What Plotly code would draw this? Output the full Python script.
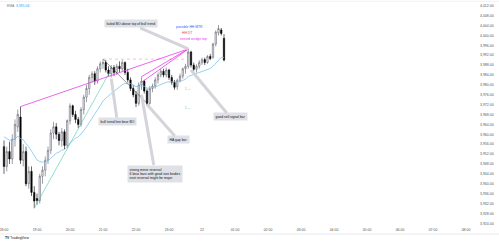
import plotly.graph_objects as go
import pandas as pd

# ---------------- data ----------------
bar_times = pd.date_range("2022-11-21 18:00", periods=81, freq="5min")

opens = [3955, 3947, 3953, 3950, 3958, 3963, 3967, 3949.5, 3953, 3940,
         3945, 3936.5, 3934, 3933.2, 3943, 3945.5, 3949.5, 3953.5, 3960.5, 3963,
         3960, 3957.5, 3961, 3955.5, 3965.5, 3971.5, 3968, 3966, 3964, 3970,
         3975, 3978.5, 3983, 3984.5, 3981.5, 3986.5, 3988.5, 3989, 3986, 3984.5,
         3987, 3985, 3987.5, 3986.5, 3989, 3985, 3982, 3978.5, 3976, 3972.5,
         3980, 3981.5, 3977.5, 3972.5, 3978.5, 3979.5, 3982, 3984, 3985.5, 3984,
         3986, 3983, 3981, 3979.3, 3981.8, 3983.5, 3986.5, 3987.5, 3993.3, 3988,
         3986.3, 3987.5, 3989, 3990.2, 3989, 3991.5, 3991.2, 3996.5, 4001, 4002.2,
         3998.8]
highs = [3957.5, 3955, 3957, 3960, 3966, 3970, 3971.2, 3956, 3955, 3947,
         3947, 3939, 3936, 3944, 3947, 3951, 3955, 3962, 3965, 3964.5,
         3961, 3962.5, 3962, 3966, 3972.5, 3972, 3969.5, 3967, 3971, 3976,
         3980, 3984, 3985.5, 3985.5, 3987.5, 3989.5, 3990.4, 3990, 3987.5, 3988,
         3988, 3988.5, 3989.5, 3990, 3989.5, 3986.5, 3983, 3980, 3977.5, 3981,
         3983.3, 3982, 3978.5, 3979.5, 3980.5, 3983, 3985, 3986.5, 3986.5, 3987,
         3986.5, 3984, 3982, 3982.5, 3984.5, 3987, 3988.5, 3994.5, 3993.8, 3989,
         3988.3, 3990, 3991, 3991, 3992, 3992.5, 3997, 4002, 4004.2, 4003,
         4000.5]
lows = [3944, 3945, 3948, 3948, 3955, 3961, 3948, 3947, 3939, 3938,
        3935, 3930.1, 3931.5, 3932, 3940, 3943, 3948, 3952, 3958, 3958,
        3955.5, 3955, 3954, 3954.5, 3964, 3967, 3964.5, 3962.5, 3963, 3968,
        3973, 3976, 3981, 3980, 3980.5, 3985, 3986.5, 3985, 3983.5, 3983,
        3983.5, 3984, 3985, 3985.5, 3984, 3981, 3977.5, 3975, 3971, 3971.5,
        3978, 3976.5, 3971.4, 3972, 3977, 3978.5, 3980.5, 3983, 3983, 3983,
        3982, 3980, 3978, 3978, 3981, 3982.5, 3984.5, 3986.5, 3987, 3985.5,
        3985, 3986.5, 3988, 3988, 3988.5, 3990, 3990.5, 3995.5, 4000, 4000,
        3989.5]
closes = [3947, 3953, 3950, 3958, 3964, 3968, 3949.5, 3953, 3940, 3945,
          3936.5, 3933, 3933.2, 3943, 3945.5, 3949.5, 3953.5, 3960.5, 3963, 3960,
          3957.5, 3961, 3955.5, 3965.5, 3971.5, 3968, 3966, 3964, 3970, 3975,
          3978.5, 3983, 3984.5, 3981.5, 3986.5, 3988.5, 3989, 3986, 3984.5, 3987,
          3985, 3987.5, 3986.5, 3989, 3985, 3982, 3978.5, 3976, 3972.5, 3980,
          3981.5, 3977.5, 3972.5, 3978.5, 3979.5, 3982, 3984, 3985.5, 3984, 3986,
          3983, 3981, 3979, 3981.8, 3983.5, 3986.5, 3987.5, 3993.3, 3988, 3986.3,
          3987.5, 3989, 3990.2, 3989, 3991.5, 3990.6, 3996.5, 4001.3, 4002.8, 4000.8,
          3990]
ema_values = [3959.0, 3958.4, 3957.6, 3957.6, 3958.2, 3959.2, 3958.3, 3957.8, 3956.1, 3955.0,
              3953.3, 3951.3, 3949.6, 3949.0, 3948.7, 3948.8, 3949.2, 3950.3, 3951.5, 3952.3,
              3952.8, 3953.6, 3953.8, 3954.9, 3956.5, 3957.6, 3958.4, 3958.9, 3960.0, 3961.4,
              3963.0, 3964.9, 3966.8, 3968.2, 3969.9, 3971.7, 3973.4, 3974.6, 3975.5, 3976.6,
              3977.4, 3978.4, 3979.1, 3980.1, 3980.5, 3980.7, 3980.5, 3980.0, 3979.3, 3979.4,
              3979.6, 3979.4, 3978.7, 3978.7, 3978.8, 3979.1, 3979.6, 3980.1, 3980.5, 3981.0,
              3981.2, 3981.2, 3981.0, 3981.1, 3981.3, 3981.8, 3982.3, 3983.4, 3983.8, 3984.0,
              3984.3, 3984.8, 3985.3, 3985.7, 3986.2, 3986.6, 3987.5, 3988.8, 3990.1, 3991.1,
              3991.0]

x_tick_times = ["2022-11-21 18:00", "2022-11-21 19:00", "2022-11-21 20:00", "2022-11-21 21:00",
                "2022-11-21 22:00", "2022-11-21 23:00", "2022-11-22 00:00", "2022-11-22 01:00",
                "2022-11-22 02:00", "2022-11-22 03:00", "2022-11-22 04:00", "2022-11-22 05:00",
                "2022-11-22 06:00", "2022-11-22 07:00", "2022-11-22 08:00"]
x_tick_labels = ["18:00", "19:00", "20:00", "21:00", "22:00", "23:00", "22", "01:00",
                 "02:00", "03:00", "04:00", "05:00", "06:00", "07:00", "08:00"]
y_tick_values = [3924, 3928, 3932, 3936, 3940, 3944, 3948, 3952, 3956, 3960, 3964, 3968,
                 3972, 3976, 3980, 3984, 3988, 3992, 3996, 4000, 4004, 4008, 4012]
y_tick_labels = ["3,924.00", "3,928.00", "3,932.00", "3,936.00", "3,940.00", "3,944.00",
                 "3,948.00", "3,952.00", "3,956.00", "3,960.00", "3,964.00", "3,968.00",
                 "3,972.00", "3,976.00", "3,980.00", "3,984.00", "3,988.00", "3,992.00",
                 "3,996.00", "4,000.00", "4,004.00", "4,008.00", "4,012.00"]

# ---------------- figure ----------------
FONT = "Liberation Sans, Arial, sans-serif"
fig = go.Figure()

fig.add_trace(go.Candlestick(
    x=bar_times, open=opens, high=highs, low=lows, close=closes,
    increasing=dict(line=dict(color="#5d606b", width=0.6), fillcolor="#ffffff"),
    decreasing=dict(line=dict(color="#000000", width=0.6), fillcolor="#000000"),
    whiskerwidth=0, showlegend=False, hoverinfo="skip",
))
fig.add_trace(go.Scatter(
    x=bar_times, y=ema_values, mode="lines",
    line=dict(color="#7cc4f4", width=0.8), showlegend=False, hoverinfo="skip",
))

def T(i):
    return bar_times[i]

# trend line (teal) from the low
fig.add_trace(go.Scatter(x=[T(11), T(38) + pd.Timedelta(minutes=2.5)], y=[lows[11], 3985.3],
                         mode="lines", line=dict(color="#4fc3b0", width=0.6),
                         showlegend=False, hoverinfo="skip"))
# bear channel line (black)
fig.add_trace(go.Scatter(x=[T(36), T(53)], y=[highs[36], lows[52]],
                         mode="lines", line=dict(color="#333333", width=0.5),
                         showlegend=False, hoverinfo="skip"))
# red dotted horizontal at first top
fig.add_trace(go.Scatter(x=[T(36), T(67)], y=[highs[36], highs[36]],
                         mode="lines", line=dict(color="#f49a9a", width=0.6, dash="dot"),
                         showlegend=False, hoverinfo="skip"))
# magenta wedge lines
mag = "#e83ee8"
for (i0, p0) in [(6, highs[6]), (50, highs[50]), (50, 3981.0)]:
    fig.add_trace(go.Scatter(x=[T(i0), T(67)], y=[p0, highs[67]], mode="lines",
                             line=dict(color=mag, width=0.8),
                             showlegend=False, hoverinfo="skip"))

# callout boxes
box_bg = "#dfe1e6"
box_font = dict(family=FONT, size=3.4, color="#131722")
callouts = [
    ("failed BO above top of bull trend", "2022-11-21 21:51", 4004.7, T(67), highs[67]),
    ("bull trend line bear BO", "2022-11-21 21:26", 3965.1, T(39), 3982.5),
    ("HA gap bar", "2022-11-21 23:17", 3957.7, T(52), 3972.0),
    ("strong minor reversal<br>6 bear bars with good size bodies<br>next reversal might be major",
     "2022-11-21 22:35", 3944.1, T(50), 3976.0),
    ("good sell signal bar", "2022-11-22 00:51", 3967.0, T(68), 3986.0),
]
for text, bx, by, tx, ty in callouts:
    fig.add_annotation(x=tx, y=ty, ax=bx, ay=by, axref="x", ayref="y", xref="x", yref="y",
                       text=text, showarrow=True, arrowhead=0, arrowwidth=3,
                       arrowcolor="#d3d5db", bgcolor=box_bg, borderpad=1.6,
                       font=box_font, align="left")

# colored labels
for text, tx, ty, col in [
    ("possible HH MTR", "2022-11-21 23:38", 4003.5, "#2962ff"),
    ("HH DT", "2022-11-21 23:32", 4001.0, "#f23645"),
    ("nested wedge top", "2022-11-21 23:44:36", 3998.4, "#e040fb"),
]:
    fig.add_annotation(x=tx, y=ty, xref="x", yref="y", text=text, showarrow=False,
                       font=dict(family=FONT, size=3.4, color=col))
for ty in [3978.3, 3970.6]:
    fig.add_annotation(x="2022-11-21 23:35", y=ty, xref="x", yref="y", text="1 —",
                       showarrow=False, font=dict(family=FONT, size=3, color="#9598a1"))

# legend / branding
fig.add_annotation(x=0.01, y=0.982, xref="paper", yref="paper", xanchor="left",
                   yanchor="middle", showarrow=False,
                   text="<span style='color:#787b86'>EMA</span>  <span style='color:#2196f3'>3,991.04</span>",
                   font=dict(family=FONT, size=3.4))
fig.add_annotation(x=0.006, y=-0.0536, xref="paper", yref="paper", xanchor="left",
                   yanchor="middle", showarrow=False,
                   text="<b>TV</b> TradingView",
                   font=dict(family=FONT, size=3.4, color="#131722"))

fig.add_shape(type="line", xref="paper", yref="paper", x0=0, x1=1.062, y0=-0.0357, y1=-0.0357,
              line=dict(color="#e0e3eb", width=0.8))
fig.add_shape(type="line", xref="paper", yref="paper", x0=0, x1=1.062, y0=1.003, y1=1.003,
              line=dict(color="#eceef2", width=0.8))

fig.update_layout(
    width=499, height=244,
    margin=dict(l=0, r=29, t=2, b=18),
    paper_bgcolor="white", plot_bgcolor="white",
    font=dict(family=FONT, size=3.5, color="#555"),
    xaxis=dict(range=["2022-11-21 17:52:44", "2022-11-22 08:07:16"],
               rangeslider=dict(visible=False), showgrid=False, zeroline=False,
               showline=False, ticks="", tickvals=x_tick_times, ticktext=x_tick_labels,
               tickfont=dict(size=3.5, color="#555"), ticklabeloverflow="allow"),
    yaxis=dict(range=[3922.9, 4013.5], side="right", showgrid=False, zeroline=False,
               showline=False, ticks="", tickvals=y_tick_values, ticktext=y_tick_labels,
               tickfont=dict(size=3.5, color="#555"), ticklabelstandoff=9),
)

fig.write_html("out.html")
